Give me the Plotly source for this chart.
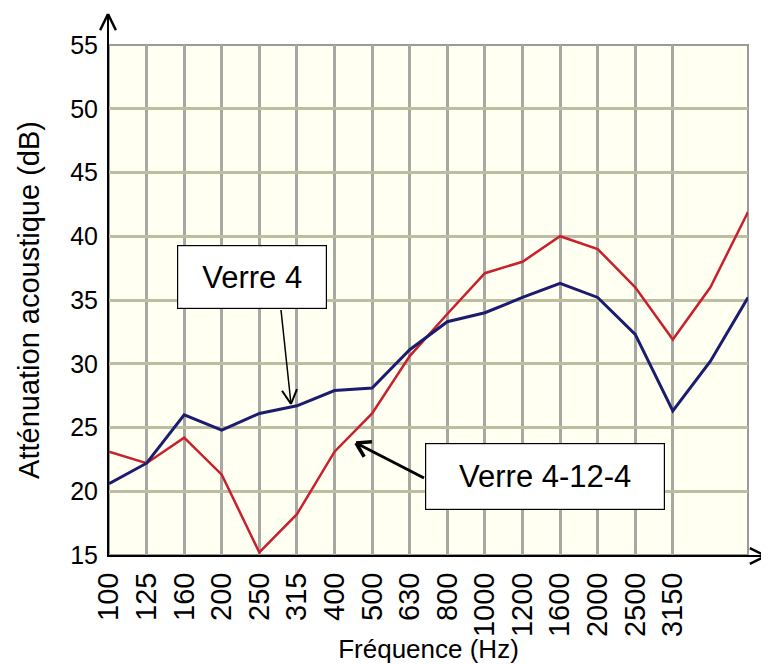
import numpy as np
import plotly.graph_objects as go

# frequencies (Hz); the last two points carry no tick label
freqs = ["100", "125", "160", "200", "250", "315", "400", "500", "630", "800",
         "1000", "1200", "1600", "2000", "2500", "3150", "4000", "5000"]
tick_labels = freqs[:16]

verre_4 = [20.6, 22.2, 26.0, 24.8, 26.1, 26.7, 27.9, 28.1, 31.1, 33.3,
           34.0, 35.2, 36.3, 35.2, 32.3, 26.3, 30.2, 35.2]
verre_4_12_4 = [23.1, 22.2, 24.2, 21.3, 15.2, 18.2, 23.1, 26.1, 30.6, 33.9,
                37.1, 38.0, 40.0, 39.0, 36.0, 31.9, 36.0, 41.9]

FONT = "Liberation Sans, Arial, sans-serif"
# the page body adds an 8px offset, so the figure is sized to end at the window edge
OFF = 8
WIN_W, WIN_H = 769, 664
WIDTH, HEIGHT = WIN_W - OFF, WIN_H - OFF
# plot box in window pixels
X0, X1, Y0, Y1 = 109, 748, 45, 555
PW, PH = X1 - X0, Y1 - Y0


def paper(px, py):
    # window pixel position -> paper coordinates
    return (px - X0) / PW, (Y1 - py) / PH


def seg(p0, p1, color="black", width=2):
    x0, y0 = paper(*p0)
    x1, y1 = paper(*p1)
    return dict(type="path", xref="paper", yref="paper",
                path=f"M {x0},{y0} L {x1},{y1}",
                line=dict(color=color, width=width))


def arrow(tail, head, length=16, angle=32, width=2):
    t = np.array(tail, float)
    h = np.array(head, float)
    d = (h - t) / np.linalg.norm(h - t)
    out = [seg(tail, head, width=width)]
    for sgn in (1, -1):
        a = np.radians(sgn * angle)
        rot = np.array([[np.cos(a), -np.sin(a)], [np.sin(a), np.cos(a)]])
        arm = h - length * rot.dot(d)
        out.append(seg(tuple(arm), head, width=width + 0.5))
    return out


fig = go.Figure()
fig.add_trace(go.Scatter(x=freqs, y=verre_4_12_4, mode="lines", name="Verre 4-12-4",
                         line=dict(color="#c8202c", width=2.5)))
fig.add_trace(go.Scatter(x=freqs, y=verre_4, mode="lines", name="Verre 4",
                         line=dict(color="#1c1c6e", width=3)))

shapes = [
    # grey frame on top and right
    dict(type="rect", xref="paper", yref="paper", x0=0, y0=0, x1=1, y1=1,
         line=dict(color="#9a9a9a", width=2), layer="below"),
]
# axis arrows
shapes += arrow((108, 556), (108, 14), length=18, angle=26, width=2)
shapes += arrow((108, 556), (766, 556), length=18, angle=26, width=2)
# callout arrows
shapes += arrow((281, 310), (291, 404), length=16, angle=28, width=1.5)
shapes += arrow((424, 478), (356, 443), length=16, angle=32, width=3)

annotations = []
for text, cx, cy, w, h in [("Verre 4", 252, 277, 146, 60),
                           ("Verre 4-12-4", 545, 476, 236, 63)]:
    x, y = paper(cx, cy)
    annotations.append(dict(
        text=text, x=x, y=y, xref="paper", yref="paper", showarrow=False,
        xanchor="center", yanchor="middle", width=w, height=h,
        bgcolor="white", bordercolor="black", borderwidth=1.2, borderpad=1,
        font=dict(family=FONT, size=31, color="black")))

fig.update_layout(
    width=WIDTH, height=HEIGHT,
    margin=dict(l=X0 - OFF, r=WIN_W - X1, t=Y0 - OFF, b=WIN_H - Y1),
    paper_bgcolor="white",
    plot_bgcolor="#fffff2",
    showlegend=False,
    font=dict(family=FONT, color="black"),
    shapes=shapes,
    annotations=annotations,
    xaxis=dict(
        type="category", range=[0, len(freqs) - 1], automargin=False,
        tickvals=tick_labels, ticktext=tick_labels, tickangle=-90,
        tickfont=dict(size=29), ticks="", ticklabelstandoff=4,
        showgrid=True, gridcolor="#a8a8a2", gridwidth=3,
        showline=True, linecolor="black", linewidth=2,
        zeroline=False,
        title=dict(text="Fréquence (Hz)", font=dict(size=26), standoff=2),
    ),
    yaxis=dict(
        range=[15, 55], dtick=5, tickfont=dict(size=25), ticks="",
        ticklabelstandoff=4, automargin=False,
        showgrid=True, gridcolor="#bdbda2", gridwidth=3,
        showline=True, linecolor="black", linewidth=2,
        zeroline=False,
        title=dict(text="Atténuation acoustique (dB)", font=dict(size=29), standoff=22),
    ),
)

fig.write_html("out.html")
